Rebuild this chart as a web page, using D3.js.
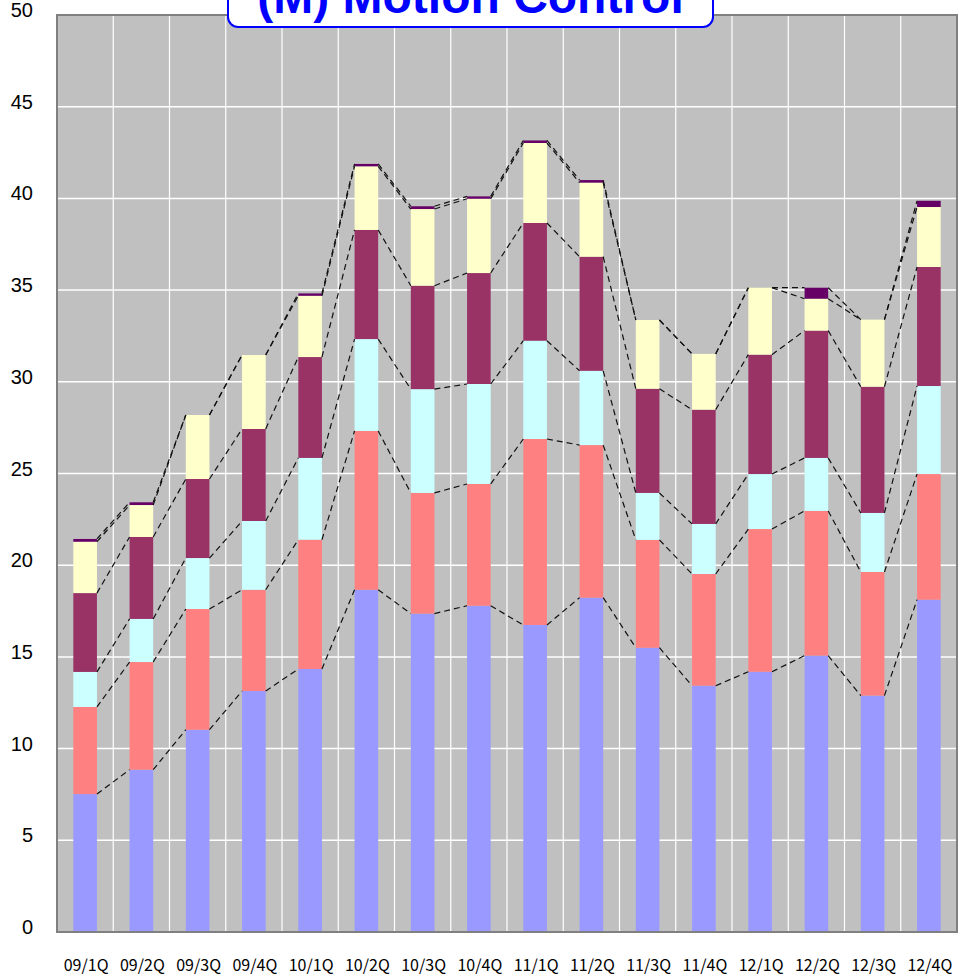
<!DOCTYPE html>
<html>
<head>
<meta charset="utf-8">
<script src="https://cdn.jsdelivr.net/npm/d3@7"></script>
<style>
  html, body { margin: 0; padding: 0; background: #fff; }
  svg { display: block; }
</style>
</head>
<body>
<div id="chart"></div>
<script>
const categories = ["09/1Q","09/2Q","09/3Q","09/4Q","10/1Q","10/2Q","10/3Q","10/4Q",
                    "11/1Q","11/2Q","11/3Q","11/4Q","12/1Q","12/2Q","12/3Q","12/4Q"];
const seriesBlue   = [7.52, 8.85, 11.03, 13.14, 14.34, 18.66, 17.36, 17.79, 16.74, 18.23, 15.50, 13.43, 14.19, 15.07, 12.89, 18.12];
const seriesSalmon = [4.75, 5.87, 6.58, 5.52, 7.05, 8.66, 6.58, 6.64, 10.14, 8.32, 5.88, 6.09, 7.78, 7.89, 6.74, 6.85];
const seriesCyan   = [1.91, 2.35, 2.78, 3.75, 4.46, 5.01, 5.66, 5.45, 5.36, 4.05, 2.56, 2.73, 3.00, 2.89, 3.22, 4.80];
const seriesMaroon = [4.30, 4.47, 4.31, 5.02, 5.50, 5.95, 5.64, 6.05, 6.42, 6.22, 5.68, 6.23, 6.51, 6.94, 6.88, 6.49];
const seriesYellow = [2.80, 1.74, 3.49, 4.03, 3.34, 3.47, 4.18, 4.05, 4.36, 4.04, 3.75, 3.04, 3.65, 1.74, 3.66, 3.27];
const seriesPurple = [0.15, 0.15, 0.00, 0.00, 0.13, 0.13, 0.15, 0.13, 0.14, 0.14, 0.00, 0.00, 0.00, 0.60, 0.00, 0.34];
const yTicks = [0, 5, 10, 15, 20, 25, 30, 35, 40, 45, 50];
const titleText = "(M) Motion Control";

const seriesList = [seriesBlue, seriesSalmon, seriesCyan, seriesMaroon, seriesYellow, seriesPurple];
const colors = ["#9999FF", "#FF8080", "#CCFFFF", "#993366", "#FFFFCC", "#660066"];

const W = 966, H = 977;
const L = 57, R = 957, T = 15, B = 932;

const svg = d3.select("#chart").append("svg").attr("width", W).attr("height", H);

const x = d3.scaleBand().domain(categories).range([L, R]).padding(0);
const y = d3.scaleLinear().domain([0, 50]).range([B, T]);
const barW = x.bandwidth() * 0.42;

const table = categories.map((c, i) => {
  const row = { cat: c };
  seriesList.forEach((s, k) => row["s" + k] = s[i]);
  return row;
});
const keys = seriesList.map((s, k) => "s" + k);
const stacked = d3.stack().keys(keys)(table);

svg.append("rect").attr("x", L).attr("y", T).attr("width", R - L).attr("height", B - T).attr("fill", "#C0C0C0");

svg.append("g").selectAll("line").data(yTicks).join("line")
  .attr("x1", L).attr("x2", R).attr("y1", d => y(d)).attr("y2", d => y(d))
  .attr("stroke", "#FFFFFF").attr("stroke-width", 1.5);
svg.append("g").selectAll("line").data(categories.slice(1)).join("line")
  .attr("x1", d => x(d)).attr("x2", d => x(d)).attr("y1", T).attr("y2", B)
  .attr("stroke", "#FFFFFF").attr("stroke-width", 1.2);

const cx = c => x(c) + x.bandwidth() / 2;
svg.append("g").selectAll("g").data(stacked).join("g")
  .attr("fill", (d, k) => colors[k])
  .selectAll("rect").data(d => d).join("rect")
  .attr("x", d => cx(d.data.cat) - barW / 2)
  .attr("width", barW)
  .attr("y", d => y(d[1]))
  .attr("height", d => Math.max(0, y(d[0]) - y(d[1])));

const lineGen = d3.line().x(p => p[0]).y(p => p[1]);
const lineG = svg.append("g");
stacked.forEach(layer => {
  for (let i = 0; i < layer.length - 1; i++) {
    const a = layer[i], b = layer[i + 1];
    const pts = [[cx(a.data.cat) + barW / 2, y(a[1])], [cx(b.data.cat) - barW / 2, y(b[1])]];
    lineG.append("path").attr("d", lineGen(pts))
      .attr("fill", "none").attr("stroke", "#111").attr("stroke-width", 1.2)
      .attr("stroke-dasharray", "6,4");
  }
});

svg.append("rect").attr("x", L).attr("y", T).attr("width", R - L).attr("height", B - T)
  .attr("fill", "none").attr("stroke", "#808080").attr("stroke-width", 2);

svg.append("g").selectAll("text").data(yTicks).join("text")
  .attr("x", 33).attr("y", d => y(d) + 2)
  .attr("text-anchor", "end")
  .attr("font-family", "Liberation Sans, Arial, sans-serif")
  .attr("font-size", 20).attr("fill", "#000")
  .text(d => d);

svg.append("g").selectAll("text").data(categories).join("text")
  .attr("x", d => cx(d) + 1).attr("y", 971)
  .attr("text-anchor", "middle")
  .attr("font-family", "Noto Sans CJK JP, sans-serif")
  .attr("font-size", 16).attr("fill", "#000")
  .text(d => d);

svg.append("rect").attr("x", 228).attr("y", -30).attr("width", 485).attr("height", 57)
  .attr("rx", 10).attr("ry", 10)
  .attr("fill", "#FFFFFF").attr("stroke", "#0000FF").attr("stroke-width", 2);
svg.append("text").attr("x", 470.5).attr("y", 13)
  .attr("text-anchor", "middle")
  .attr("font-family", "Liberation Sans, Arial, sans-serif")
  .attr("font-weight", "bold").attr("font-size", 48).attr("fill", "#0000FF")
  .text(titleText);
</script>
</body>
</html>
